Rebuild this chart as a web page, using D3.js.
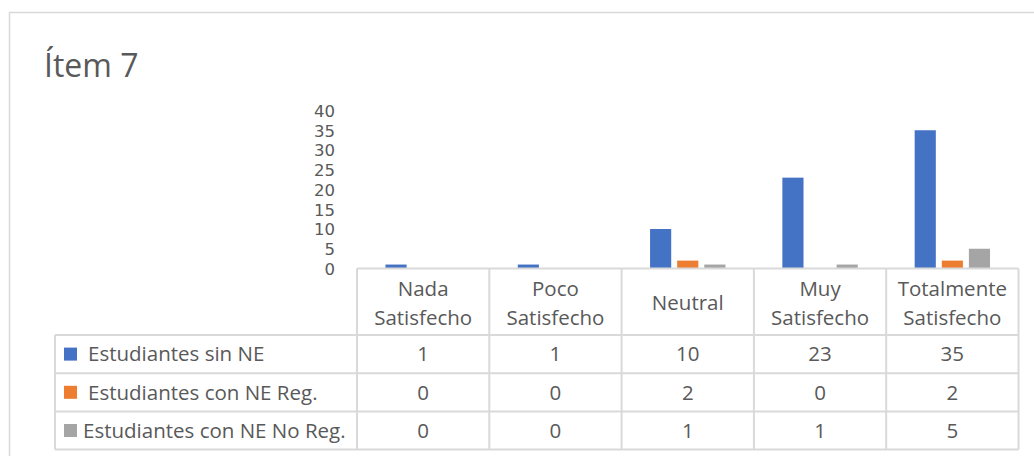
<!DOCTYPE html>
<html>
<head>
<meta charset="utf-8">
<script src="https://cdn.jsdelivr.net/npm/d3@7/dist/d3.min.js"></script>
<style>
  html, body { margin: 0; padding: 0; background: #fff; }
  svg { display: block; font-family: "Open Sans", "Noto Sans", sans-serif; }
</style>
</head>
<body>
<svg id="chart" width="1034" height="456"></svg>
<script>
// Ítem 7 — clustered column chart with an Excel-style data table underneath.

const categories = [["Nada", "Satisfecho"], ["Poco", "Satisfecho"], ["Neutral"], ["Muy", "Satisfecho"], ["Totalmente", "Satisfecho"]];
const seriesNames = ["Estudiantes sin NE", "Estudiantes con NE Reg.", "Estudiantes con NE No Reg."];
const sinNE = [1, 1, 10, 23, 35];
const conNEReg = [0, 0, 2, 0, 2];
const conNENoReg = [0, 0, 1, 1, 5];
const yTicks = [0, 5, 10, 15, 20, 25, 30, 35, 40];
const colors = ["#4472c4", "#ed7d31", "#a5a5a5"];

const series = [sinNE, conNEReg, conNENoReg];
const svg = d3.select("#chart");
const textColor = "#595959";
const gridColor = "#d9d9d9";
const fs = 20.5;

// outer chart frame (only left and top visible in the crop)
svg.append("path")
  .attr("d", "M9.5,456 V12.5 H1034")
  .attr("fill", "none")
  .attr("stroke", gridColor)
  .attr("stroke-width", 1.5);

svg.append("text")
  .attr("x", 44).attr("y", 77)
  .attr("fill", textColor)
  .attr("font-size", 32)
  .text("Ítem 7");

const plotLeft = 357, plotRight = 1018.5;
const y = d3.scaleLinear().domain([0, 40]).range([268.5, 110.5]);
const x = d3.scaleBand().domain(d3.range(categories.length)).range([plotLeft, plotRight]);
const x1 = d3.scaleBand().domain(d3.range(series.length)).range([0, x.bandwidth()])
  .paddingInner(0.22).paddingOuter(1.05);

// y axis labels (no line, no gridlines) — stacked tightly like the original
const yAxis = d3.axisLeft(y).tickValues(yTicks).tickSize(0).tickPadding(0);
const gy = svg.append("g").attr("transform", "translate(335,0)").call(yAxis);
gy.select(".domain").remove();
gy.selectAll("text")
  .attr("fill", textColor)
  .attr("font-size", 16.5)
  .attr("font-family", "'DejaVu Sans', sans-serif")
  .attr("dy", "0.36em");

// bars
const groups = svg.append("g").selectAll("g")
  .data(categories.map((c, i) => i))
  .join("g")
  .attr("transform", i => `translate(${x(i)},0)`);
groups.selectAll("rect")
  .data(i => series.map((s, k) => ({ k, v: s[i] })))
  .join("rect")
  .attr("x", d => x1(d.k))
  .attr("width", x1.bandwidth())
  .attr("y", d => y(d.v))
  .attr("height", d => y(0) - y(d.v))
  .attr("fill", d => colors[d.k]);

// data table
const headerTop = 268.5, headerBottom = 335, rowH = 38.2;
const tableLeft = 55;
const rowY = i => headerBottom + i * rowH;
const tableBottom = rowY(series.length);

const lines = svg.append("g")
  .attr("stroke", gridColor)
  .attr("stroke-width", 2)
  .attr("fill", "none");

// axis line / header top
lines.append("line").attr("x1", plotLeft).attr("x2", plotRight).attr("y1", headerTop).attr("y2", headerTop);
// horizontal rows
d3.range(series.length + 1).forEach(i => {
  lines.append("line").attr("x1", tableLeft).attr("x2", plotRight).attr("y1", rowY(i)).attr("y2", rowY(i));
});
// vertical lines
lines.append("line").attr("x1", tableLeft).attr("x2", tableLeft).attr("y1", headerBottom).attr("y2", tableBottom);
d3.range(categories.length + 1).forEach(i => {
  const xv = i < categories.length ? x(i) : plotRight;
  lines.append("line").attr("x1", xv).attr("x2", xv).attr("y1", headerTop).attr("y2", tableBottom);
});

// header labels
const headerMid = (headerTop + headerBottom) / 2 + 1;
categories.forEach((c, i) => {
  const t = svg.append("text")
    .attr("x", x(i) + x.bandwidth() / 2)
    .attr("text-anchor", "middle")
    .attr("fill", textColor)
    .attr("font-size", fs);
  const lh = 29;
  c.forEach((line, j) => {
    t.append("tspan")
      .attr("x", x(i) + x.bandwidth() / 2)
      .attr("y", headerMid + (j - (c.length - 1) / 2) * lh)
      .attr("dy", "0.36em")
      .text(line);
  });
});

// row legend + values
series.forEach((s, k) => {
  const cy = rowY(k) + rowH / 2;
  svg.append("rect")
    .attr("x", 64).attr("y", cy - 6.5)
    .attr("width", 13).attr("height", 13)
    .attr("fill", colors[k]);
  svg.append("text")
    .attr("x", k === 2 ? 83 : 88).attr("y", cy)
    .attr("dy", "0.36em")
    .attr("fill", textColor)
    .attr("font-size", fs)
    .text(seriesNames[k]);
  s.forEach((v, i) => {
    svg.append("text")
      .attr("x", x(i) + x.bandwidth() / 2).attr("y", cy)
      .attr("dy", "0.36em")
      .attr("text-anchor", "middle")
      .attr("fill", textColor)
      .attr("font-size", fs)
      .text(v);
  });
});
</script>
</body>
</html>
